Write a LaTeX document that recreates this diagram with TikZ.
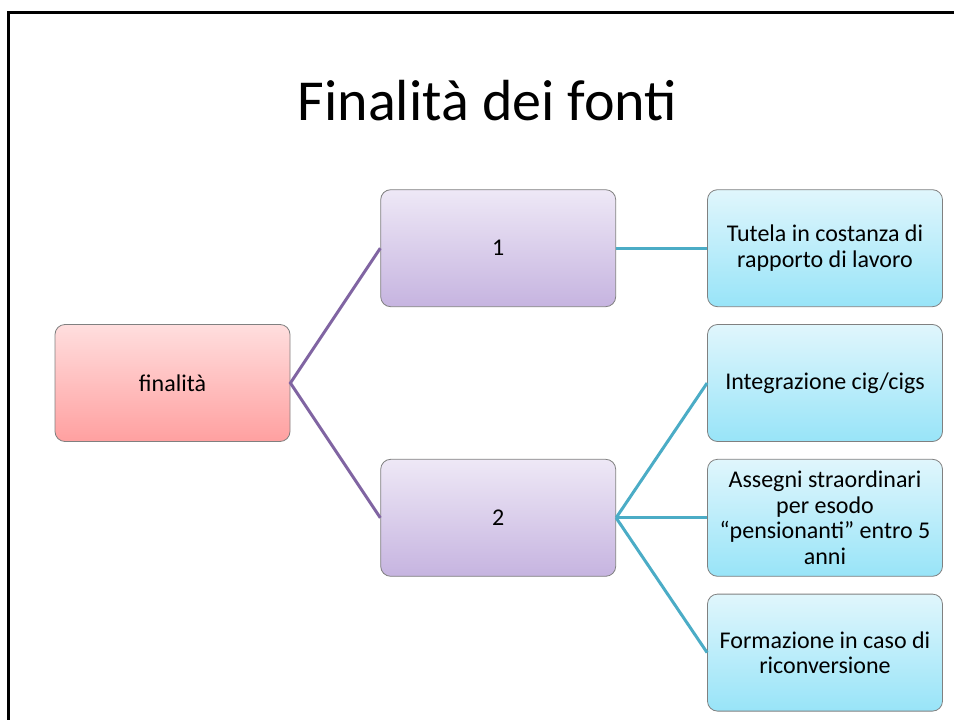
\documentclass[tikz,border=0pt]{standalone}
\usepackage{fontspec}
\setmainfont{Carlito}
\usetikzlibrary{positioning}

\definecolor{rootTop}{RGB}{255,222,222}
\definecolor{rootBot}{RGB}{255,160,160}
\definecolor{midTop}{RGB}{238,232,246}
\definecolor{midBot}{RGB}{198,180,224}
\definecolor{leafTop}{RGB}{224,246,252}
\definecolor{leafBot}{RGB}{152,228,248}
\definecolor{purpleLine}{RGB}{128,100,162}
\definecolor{tealLine}{RGB}{75,172,198}

\tikzset{
  box/.style={rectangle, rounded corners=10pt, draw=black!50, line width=0.8pt,
    minimum width=235pt, minimum height=117pt, align=center, inner sep=4pt,
    font=\fontsize{24}{25.5}\selectfont},
  rootbox/.style={box, top color=rootTop, bottom color=rootBot},
  midbox/.style={box, top color=midTop, bottom color=midBot},
  leafbox/.style={box, top color=leafTop, bottom color=leafBot},
  rootlink/.style={draw=purpleLine, line width=3pt},
  leaflink/.style={draw=tealLine, line width=3pt}
}

\begin{document}
\begin{tikzpicture}[x=1pt, y=1pt]
\useasboundingbox (0,0) rectangle (954,-720);
\draw[line width=2.5pt] (8.5,-720) -- (8.5,-12.5) -- (954,-12.5);

% title
\node[anchor=base, font=\fontsize{58}{70}\selectfont] (title) at (487.5,-120) {Finalità dei fonti};

% right column
\node[leafbox] (integr) at (825,-383) {Integrazione cig/cigs};
\node[leafbox, above=17pt of integr] (tutela) {Tutela in costanza di\\rapporto di lavoro};
\node[leafbox, below=17pt of integr] (assegni) {Assegni straordinari\\per esodo\\“pensionanti” entro 5\\anni};
\node[leafbox, below=17pt of assegni] (formaz) {Formazione in caso di\\riconversione};

% middle column
\node[midbox, left=91pt of tutela] (uno) {1};
\node[midbox, left=91pt of assegni] (due) {2};

% root
\node[rootbox] (fin) at (172.5,-383) {finalità};

\draw[rootlink] (uno.west) -- (fin.east) -- (due.west);
\draw[leaflink] (uno.east) -- (tutela.west);
\draw[leaflink] (due.east) -- (integr.west);
\draw[leaflink] (due.east) -- (assegni.west);
\draw[leaflink] (due.east) -- (formaz.west);
\end{tikzpicture}
\end{document}
